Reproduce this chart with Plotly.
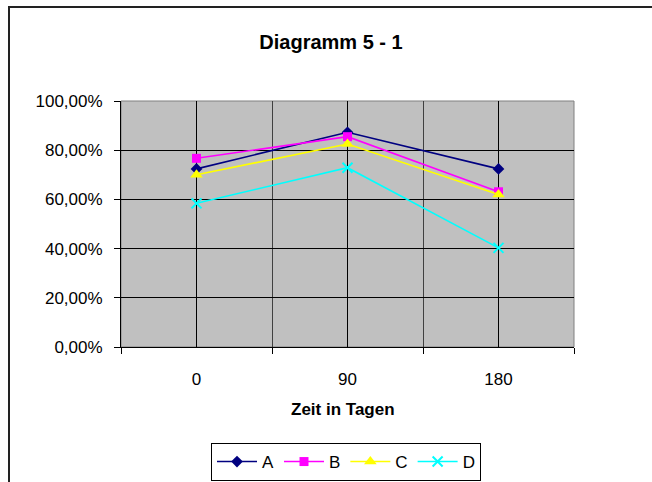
import plotly.graph_objects as go

days = [0, 90, 180]
series_names = ["A", "B", "C", "D"]
vals_A = [0.724, 0.873, 0.724]
vals_B = [0.767, 0.855, 0.631]
vals_C = [0.700, 0.825, 0.620]
vals_D = [0.584, 0.729, 0.403]
y_ticks = [0, 0.2, 0.4, 0.6, 0.8, 1.0]
x_ticktext = ["0", "90", "180"]

colors = ["#000080", "#FF00FF", "#FFFF00", "#00FFFF"]
symbols = ["diamond", "square", "triangle-up", "x-thin"]
sizes = [9, 9, 11, 10]
all_vals = [vals_A, vals_B, vals_C, vals_D]

FONT = "Liberation Sans, Arial, sans-serif"

fig = go.Figure()
for name, vals, c, s, sz in zip(series_names, all_vals, colors, symbols, sizes):
    marker = dict(symbol=s, size=sz, color=c)
    if s == "x-thin":
        marker["line"] = dict(color=c, width=2)
    else:
        marker["line"] = dict(width=0)
    fig.add_trace(go.Scatter(x=days, y=vals, name=name, mode="lines+markers",
                             line=dict(color=c, width=1.6), marker=marker))

W, H = 652, 482
L, R, T, B = 121, 78, 101, 135
pw, ph = W - L - R, H - T - B

def px_x(x):
    return (x - L) / pw

def px_y(y):
    return (H - B - y) / ph

fig.update_layout(
    width=W, height=H,
    margin=dict(l=L, r=R, t=T, b=B, pad=0, autoexpand=False),
    paper_bgcolor="white",
    plot_bgcolor="#C0C0C0",
    separators=",.",
    font=dict(family=FONT, size=17, color="black"),
    title=dict(text="<b>Diagramm 5 - 1</b>", x=331 / W, xanchor="center",
               y=1 - 42 / H, yanchor="middle",
               font=dict(family=FONT, size=20, color="black")),
    showlegend=True,
    legend=dict(orientation="h", x=px_x(346), xanchor="center",
                y=px_y(443), yanchor="top",
                bordercolor="black", borderwidth=1, bgcolor="white",
                font=dict(family=FONT, size=17, color="black"),
                itemwidth=40, tracegroupgap=0),
    xaxis=dict(range=[-45, 225], tickmode="array", tickvals=days, ticktext=x_ticktext,
               ticks="", showgrid=True, gridcolor="black", gridwidth=1,
               showline=True, linecolor="black", linewidth=1,
               zeroline=False, ticklabelstandoff=17,
               minor=dict(tickmode="array", tickvals=[-45, 45, 135, 225],
                          ticks="outside", ticklen=6, tickcolor="black",
                          showgrid=True, gridcolor="#404040", gridwidth=1),
               tickfont=dict(family=FONT, size=17, color="black")),
    yaxis=dict(range=[0, 1], tickmode="array", tickvals=y_ticks, tickformat=".2%",
               ticks="outside", ticklen=6, tickcolor="black",
               showgrid=True, gridcolor="black", gridwidth=1,
               showline=True, linecolor="black", linewidth=1,
               zeroline=False, ticklabelstandoff=8,
               tickfont=dict(family=FONT, size=17, color="black")),
)

fig.add_annotation(text="<b>Zeit in Tagen</b>", xref="paper", yref="paper",
                   x=px_x(343), y=px_y(409), xanchor="center", yanchor="middle",
                   showarrow=False, font=dict(family=FONT, size=17, color="black"))

# plot area border (gray)
fig.add_shape(type="rect", xref="paper", yref="paper", x0=0, y0=0, x1=1, y1=1,
              line=dict(color="#808080", width=1), layer="below")
# chart frame
fig.add_shape(type="rect", xref="paper", yref="paper",
              x0=px_x(9), y0=px_y(520), x1=px_x(700), y1=px_y(7),
              line=dict(color="#222222", width=2), fillcolor="rgba(0,0,0,0)")

fig.write_html("out.html")
